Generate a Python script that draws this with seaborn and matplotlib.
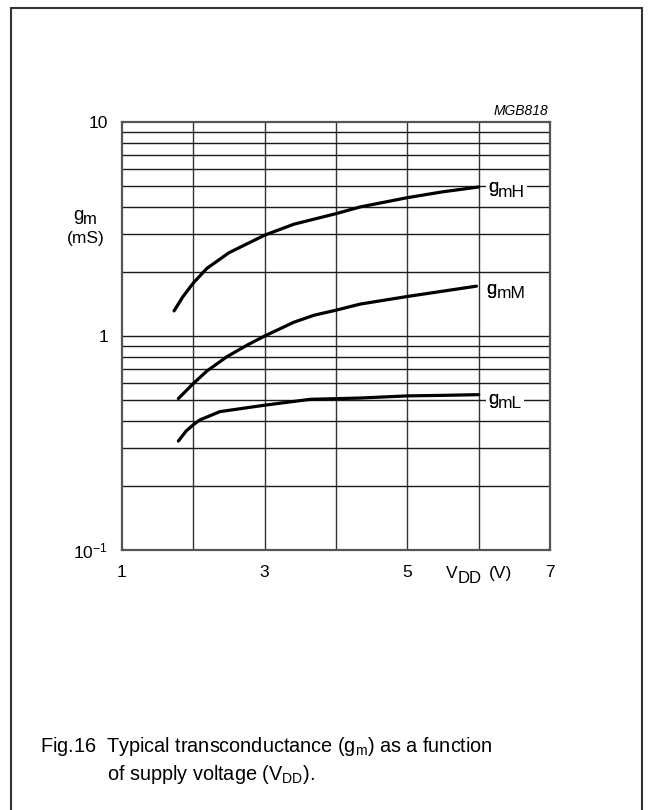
import numpy as np
import pandas as pd
import matplotlib
matplotlib.use("Agg")
import matplotlib.pyplot as plt
import seaborn as sns
from matplotlib.patches import Rectangle
from matplotlib.transforms import offset_copy

sns.set_theme(style="white")
plt.rcParams['font.family'] = ['Liberation Sans', 'DejaVu Sans']
plt.rcParams['mathtext.fontset'] = 'custom'
plt.rcParams['mathtext.rm'] = 'Liberation Sans'
plt.rcParams['mathtext.it'] = 'Liberation Sans:italic'
plt.rcParams['text.color'] = 'black'
plt.rcParams['xtick.color'] = 'black'
plt.rcParams['ytick.color'] = 'black'

# ---- data ----
vdd_H = [1.73, 1.85, 2.0, 2.19, 2.5, 3.0, 3.41, 4.0, 4.34, 5.0, 5.5, 6.0]
gm_H = [1.31, 1.52, 1.77, 2.07, 2.45, 2.96, 3.33, 3.73, 4.01, 4.43, 4.72, 4.97]

vdd_M = [1.79, 2.0, 2.19, 2.47, 2.75, 3.0, 3.41, 3.69, 4.0, 4.34, 5.0, 5.5, 5.97]
gm_M = [0.51, 0.60, 0.686, 0.80, 0.905, 1.0, 1.16, 1.25, 1.32, 1.41, 1.53, 1.62, 1.71]

vdd_L = [1.79, 1.9, 2.0, 2.09, 2.37, 3.0, 3.64, 4.34, 5.0, 5.5, 6.0]
gm_L = [0.323, 0.36, 0.385, 0.405, 0.443, 0.475, 0.506, 0.513, 0.525, 0.528, 0.532]

series_names = ["gmH", "gmM", "gmL"]
x_ticks = [1, 3, 5, 7]
y_ticks = [0.1, 1, 10]
y_tick_labels = [r"$\mathregular{10^{-1}}$", "1", "10"]

df = pd.concat([
    pd.DataFrame({"VDD": vdd_H, "gm": gm_H, "curve": "gmH"}),
    pd.DataFrame({"VDD": vdd_M, "gm": gm_M, "curve": "gmM"}),
    pd.DataFrame({"VDD": vdd_L, "gm": gm_L, "curve": "gmL"}),
])

fig = plt.figure(figsize=(6.53, 8.1), dpi=100)
ax = fig.add_axes([122/653, 1-550/810, 428/653, 428/810])

sns.lineplot(data=df, x="VDD", y="gm", hue="curve", units="curve", estimator=None,
             palette=["black"]*3, linewidth=2.3, legend=False, ax=ax, zorder=3,
             sort=False)

ax.set_yscale("log")
ax.set_xlim(1, 7)
ax.set_ylim(0.1, 10)

# grid lines
for xv in [2, 3, 4, 5, 6]:
    ax.axvline(xv, color="#333333", lw=1.0, zorder=1)
minor = [m * 10.0**e for e in (-1, 0) for m in range(2, 10)] + [1]
for yv in minor:
    ax.axhline(yv, color="#1a1a1a", lw=1.0, zorder=1)

for s in ax.spines.values():
    s.set_color("#555555")
    s.set_linewidth(1.6)

ax.set_xticks(x_ticks)
ax.set_xticklabels([str(v) for v in x_ticks])
ax.set_yticks(y_ticks)
ax.set_yticklabels(y_tick_labels)
ax.yaxis.set_minor_locator(matplotlib.ticker.NullLocator())
ax.tick_params(axis="both", length=0, labelsize=12.5, colors="black")
ax.tick_params(axis="x", pad=11)
ax.tick_params(axis="y", pad=10)
ax.set_xlabel("")
ax.set_ylabel("")


def sub_text(x, y, base, sub, transform, bsize, ssize, dx, dy, bbox=None, z=4):
    """base text with a subscript placed dx points right and dy points lower"""
    ax.text(x, y, base, transform=transform, fontsize=bsize, ha="left",
            va="baseline", bbox=bbox, zorder=z)
    tr = offset_copy(transform, fig=fig, x=dx, y=-dy, units="points")
    ax.text(x, y, sub, transform=tr, fontsize=ssize, ha="left",
            va="baseline", bbox=bbox, zorder=z + 0.5)
    if bbox is not None:
        # redraw the base glyph on top so the subscript box does not clip it
        ax.text(x, y, base, transform=transform, fontsize=bsize, ha="left",
                va="baseline", zorder=z + 1)


# curve labels
bbox = dict(facecolor="white", edgecolor="none", pad=1.2)
lab_pos = {"gmH": (6.13, 4.69), "gmM": (6.11, 1.57), "gmL": (6.13, 0.48)}
lab_sub = {"gmH": "mH", "gmM": "mM", "gmL": "mL"}
for k in series_names:
    xx, yy = lab_pos[k]
    sub_text(xx, yy, "g", lab_sub[k], ax.transData, 13.5, 12.5, 7.4, 3.0, bbox=bbox)

# axis labels
sub_text(73/653, 1-220/810, "g", "m", fig.transFigure, 13.5, 12, 7.4, 3.0)
fig.text(86/653, 1-238/810, "(mS)", fontsize=12.5, ha="center", va="center")
sub_text(446/653, 1-578/810, "V", "DD", fig.transFigure, 12.5, 12, 8.2, 3.5)
fig.text(489/653, 1-578/810, "(V)", fontsize=12.5, ha="left", va="baseline")
fig.text(548/653, 1-111/810, "MGB818", fontsize=10, style="italic", ha="right", va="center")

# caption
fig.text(40/653, 1-752/810, "Fig.16  Typical transconductance ($\\mathregular{g_m}$) as a function",
         fontsize=14.3, ha="left", va="baseline")
fig.text(107/653, 1-780/810, "of supply voltage ($\\mathregular{V_{DD}}$).",
         fontsize=14.3, ha="left", va="baseline")

# outer frame
fig.patches.append(Rectangle((11/653, -0.05), (642-11)/653, 1.05 - 8/810,
                             transform=fig.transFigure, fill=False,
                             edgecolor="#333333", linewidth=1.5))

fig.savefig("out.png", dpi=100)
